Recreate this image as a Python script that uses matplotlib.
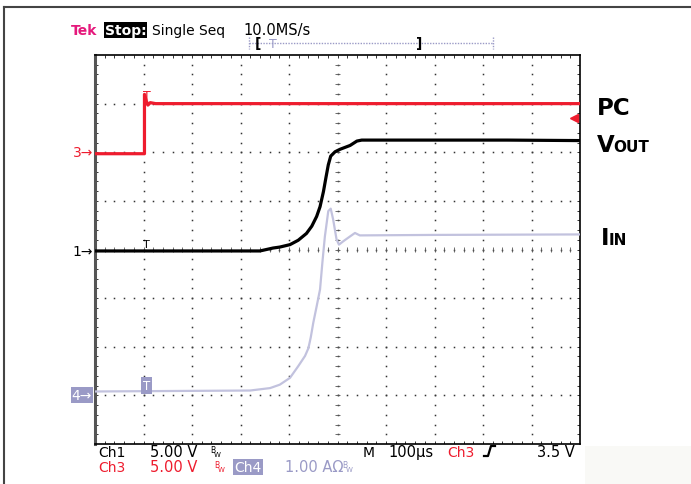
import matplotlib
matplotlib.use("Agg")
import matplotlib.pyplot as plt
from matplotlib.lines import Line2D
from matplotlib.patches import Rectangle
import numpy as np

W, H = 691, 485

# trace data, in divisions (x: 0..10, y: -4..4 around screen centre)
t_ch3 = [0, 1.02, 1.02, 1.05, 1.09, 1.14, 1.25, 4.0, 7.0, 10]
v_ch3 = [1.97, 1.97, 3.19, 3.08, 2.97, 3.02, 3.0, 3.0, 3.0, 3.0]

t_ch1 = [0, 3.4, 3.67, 3.81, 4.02, 4.19, 4.36, 4.47, 4.57, 4.64, 4.71, 4.76,
         4.81, 4.86, 4.95, 5.05, 5.26, 5.40, 5.50, 7.0, 8.5, 10]
v_ch1 = [-0.03, -0.03, 0.03, 0.05, 0.10, 0.19, 0.33, 0.48, 0.68, 0.88, 1.19,
         1.47, 1.74, 1.92, 2.01, 2.06, 2.14, 2.23, 2.25, 2.25, 2.25, 2.24]

t_ch4 = [0, 3.2, 3.61, 3.81, 4.02, 4.19, 4.33, 4.40, 4.45, 4.50, 4.57, 4.64,
         4.69, 4.74, 4.81, 4.86, 4.91, 4.98, 5.03, 5.12, 5.26, 5.36, 5.46, 7.0, 10]
v_ch4 = [-2.92, -2.90, -2.85, -2.78, -2.64, -2.40, -2.19, -2.03, -1.80, -1.51,
         -1.17, -0.82, -0.25, 0.27, 0.79, 0.84, 0.62, 0.21, 0.10, 0.17, 0.27,
         0.34, 0.29, 0.30, 0.31]

# channel reference markers (divisions)
ch3_ref = 2.0
ch1_ref = -0.04
ch4_ref = -3.0
trig_level = 2.7
trig_pos = 1.06

RED = '#ee1c2e'
LAV = '#9a9ac6'
LAV_TRACE = '#c2c2de'
MAG = '#e5197c'
FONT = ['DejaVu Sans']

fig = plt.figure(figsize=(W / 100, H / 100), dpi=100)
fig.patch.set_facecolor('white')


def fx(x):
    return x / W


def fy(y):
    return 1 - y / H


# outer frame lines
fig.add_artist(Line2D([fx(4), fx(691)], [fy(8), fy(8)], color='#444', lw=1.5))
fig.add_artist(Line2D([fx(4), fx(4)], [fy(8), fy(485)], color='#444', lw=1.5))
fig.add_artist(Rectangle((fx(585), 0), fx(106), fy(447),
                         facecolor='#f9f9f6', edgecolor='none'))

ax = fig.add_axes([fx(95), fy(445), 485 / W, 389 / H])
ax.set_xlim(0, 10)
ax.set_ylim(-4, 4)
ax.set_xticks([])
ax.set_yticks([])
for s in ax.spines.values():
    s.set_linewidth(1.2)
    s.set_color('black')
ax.spines['left'].set_linewidth(2.2)
ax.spines['left'].set_color('#555')

# graticule dots
minor_x = np.arange(1, 50) * 0.2
minor_y = -4 + np.arange(1, 40) * 0.2
for gx in range(1, 10):
    if gx == 5:
        continue
    ax.plot(np.full_like(minor_y, gx), minor_y, ls='none', marker='s', ms=1.1,
            mew=0, color='#333')
for gy in range(-3, 4):
    if gy == 0:
        continue
    ax.plot(minor_x, np.full_like(minor_x, gy), ls='none', marker='s', ms=1.1,
            mew=0, color='#333')

# centre crosshair with ticks
ax.plot(np.full_like(minor_y, 5), minor_y, ls='none', marker='s', ms=1.1, mew=0, color='#333')
ax.plot(minor_x, np.zeros_like(minor_x), ls='none', marker='s', ms=1.1, mew=0, color='#333')
ax.hlines(minor_y, 4.94, 5.06, color='#555', lw=0.6)
ax.vlines(minor_x, -0.05, 0.05, color='#555', lw=0.6)

# border ticks
ax.vlines(minor_x, 3.93, 4, color='#333', lw=0.7)
ax.vlines(minor_x, -4, -3.93, color='#333', lw=0.7)
ax.hlines(minor_y, 0, 0.07, color='#333', lw=0.7)
ax.hlines(minor_y, 9.93, 10, color='#333', lw=0.7)

# traces
ax.plot(t_ch4, v_ch4, color=LAV_TRACE, lw=1.6, zorder=3)
ax.plot(t_ch1, v_ch1, color='black', lw=2.3, zorder=4)
ax.plot(t_ch3, v_ch3, color=RED, lw=2.3, zorder=5)

# trigger position markers on the traces
ax.text(trig_pos, 3.31, 'T', color=RED, fontsize=9, ha='center', va='top',
        family=FONT, zorder=6)
ax.text(trig_pos, 0.02, 'T', color='black', fontsize=8, ha='center', va='bottom',
        family=FONT, zorder=6)
ax.text(trig_pos, ch4_ref + 0.2, 'T', color='white', fontsize=8.5, ha='center',
        va='center', family=FONT, zorder=6,
        bbox=dict(facecolor=LAV, edgecolor='none', pad=1.2))

# trigger level arrow
ax.plot([9.88], [trig_level], marker='<', ms=6, color=RED, clip_on=False, zorder=6)

# channel reference markers
ax.text(-0.04, ch3_ref, '3→', color=RED, fontsize=10, ha='right', va='center',
        family=FONT)
ax.text(-0.04, ch1_ref, '1→', color='black', fontsize=10, ha='right', va='center',
        family=FONT)
ax.text(-0.06, ch4_ref, '4→', color='white', fontsize=10, ha='right', va='center',
        family=FONT, bbox=dict(facecolor=LAV, edgecolor='none', pad=0.8))

# top status line
fig.text(fx(71), fy(35), 'Tek', color=MAG, fontsize=10, fontweight='bold',
         family=FONT, va='baseline')
fig.text(fx(105), fy(35), 'Stop:', color='white', fontsize=10, fontweight='bold',
         family=FONT, va='baseline',
         bbox=dict(facecolor='black', edgecolor='none', pad=0.6))
fig.text(fx(152), fy(35), 'Single Seq', color='black', fontsize=10, family=FONT,
         va='baseline')
fig.text(fx(243), fy(35), '10.0MS/s', color='black', fontsize=10.5, family=FONT,
         va='baseline')

# record position bar
fig.add_artist(Line2D([fx(249), fx(493)], [fy(44), fy(44)], color=LAV, lw=1,
                      ls=(0, (1, 1))))
fig.add_artist(Line2D([fx(249), fx(249)], [fy(38), fy(50)], color=LAV, lw=1,
                      ls=(0, (1, 1))))
fig.add_artist(Line2D([fx(493), fx(493)], [fy(38), fy(50)], color=LAV, lw=1,
                      ls=(0, (1, 1))))
fig.text(fx(255), fy(44), '[', color='black', fontsize=10, fontweight='bold',
         family=FONT, va='center')
fig.text(fx(273), fy(44), 'T', color=LAV, fontsize=9, family=FONT, va='center',
         ha='center')
fig.text(fx(416), fy(44), ']', color='black', fontsize=10, fontweight='bold',
         family=FONT, va='center')

# bottom readouts
row1, row2 = 457, 472
fig.text(fx(98), fy(row1), 'Ch1', color='black', fontsize=10, family=FONT, va='baseline')
fig.text(fx(150), fy(row1), '5.00 V', color='black', fontsize=10.5, family=FONT, va='baseline')
fig.text(fx(210), fy(row1 - 4), 'B', color='black', fontsize=5.5, family=FONT, va='baseline')
fig.text(fx(214), fy(row1), 'W', color='black', fontsize=5, family=FONT, va='baseline')
fig.text(fx(363), fy(row1), 'M', color='black', fontsize=10, family=FONT, va='baseline')
fig.text(fx(388), fy(row1), '100µs', color='black', fontsize=10.5, family=FONT, va='baseline')
fig.text(fx(447), fy(row1), 'Ch3', color=RED, fontsize=10, family=FONT, va='baseline')
fig.add_artist(Line2D([fx(484), fx(488), fx(491), fx(495)],
                      [fy(row1), fy(row1), fy(row1 - 10), fy(row1 - 10)],
                      color='black', lw=1.6))
fig.text(fx(537), fy(row1), '3.5 V', color='black', fontsize=10.5, family=FONT, va='baseline')

fig.text(fx(98), fy(row2), 'Ch3', color=RED, fontsize=10, family=FONT, va='baseline')
fig.text(fx(150), fy(row2), '5.00 V', color=RED, fontsize=10.5, family=FONT, va='baseline')
fig.text(fx(214), fy(row2 - 4), 'B', color=RED, fontsize=5.5, family=FONT, va='baseline')
fig.text(fx(218), fy(row2), 'W', color=RED, fontsize=5, family=FONT, va='baseline')
fig.text(fx(234), fy(row2), 'Ch4', color='white', fontsize=10, family=FONT, va='baseline',
         bbox=dict(facecolor=LAV, edgecolor='none', pad=1.0))
fig.text(fx(285), fy(row2), '1.00 AΩ', color=LAV, fontsize=10.5, family=FONT, va='baseline')
fig.text(fx(342), fy(row2 - 4), 'B', color=LAV, fontsize=5.5, family=FONT, va='baseline')
fig.text(fx(346), fy(row2), 'W', color=LAV, fontsize=5, family=FONT, va='baseline')

# signal labels on the right
fig.text(fx(597), fy(115), 'PC', color='black', fontsize=16.5, fontweight='bold',
         family=FONT, va='baseline')
fig.text(fx(597), fy(152), 'V', color='black', fontsize=16.5, fontweight='bold',
         family=FONT, va='baseline')
fig.text(fx(613), fy(152), 'OUT', color='black', fontsize=11, fontweight='bold',
         family=FONT, va='baseline')
fig.text(fx(601), fy(245), 'I', color='black', fontsize=16.5, fontweight='bold',
         family=FONT, va='baseline')
fig.text(fx(609), fy(245), 'IN', color='black', fontsize=11, fontweight='bold',
         family=FONT, va='baseline')

fig.savefig('out.png', dpi=100, facecolor='white')
